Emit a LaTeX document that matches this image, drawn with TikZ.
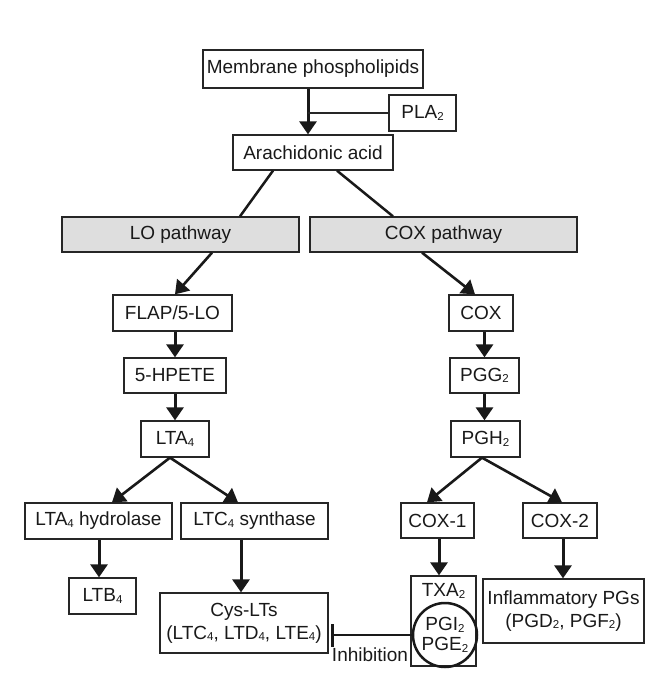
\documentclass[tikz,border=0pt]{standalone}
\usepackage{fontspec}
\setmainfont{Liberation Sans}
\usetikzlibrary{arrows.meta}
\newcommand\sbx[1]{\raisebox{-1.5pt}{\fontsize{11.5}{11.5}\selectfont #1}}
\begin{document}
\begin{tikzpicture}[x=1pt,y=-1pt,
  txt/.style={font=\fontsize{19}{23}\selectfont, text=black!90},
  box/.style={txt, draw=black!85, line width=1.3pt, inner sep=0pt, minimum height=36pt},
  pbox/.style={box, fill=black!13},
  arr/.style={draw=black!90, line width=3pt, -{Triangle[width=17pt,length=13pt]}},
  arrd/.style={draw=black!90, line width=2.6pt, -{Triangle[width=17pt,length=13pt]}},
  ln/.style={draw=black!90, line width=2.5pt},
  thinln/.style={draw=black!85, line width=1.2pt}]
\useasboundingbox (0,0) rectangle (670,688);
\node[box, minimum width=220pt, minimum height=38pt] (mp) at (313,69) {Membrane phospholipids};
\node[box, minimum width=67pt] (pla) at (422.5,113) {PLA\sbx{2}};
\node[box, minimum width=160pt, minimum height=35pt] (aa) at (313,152.5) {Arachidonic acid};
\node[pbox, minimum width=237pt, minimum height=35pt] (lo) at (180.5,234.5) {LO pathway};
\node[pbox, minimum width=267pt, minimum height=35pt] (coxp) at (443.5,234.5) {COX pathway};
\node[box, minimum width=119pt] (flap) at (172.5,313) {FLAP/5-LO};
\node[box, minimum width=64pt] (cox) at (481,313) {COX};
\node[box, minimum width=102pt, minimum height=35pt] (hpete) at (175,375.5) {5-HPETE};
\node[box, minimum width=69pt, minimum height=35pt] (pgg) at (484.5,375.5) {PGG\sbx{2}};
\node[box, minimum width=68pt] (lta) at (175,439) {LTA\sbx{4}};
\node[box, minimum width=69pt] (pgh) at (485.5,439) {PGH\sbx{2}};
\node[box, minimum width=147pt] (ltah) at (98.5,521) {LTA\sbx{4} hydrolase};
\node[box, minimum width=147pt] (ltcs) at (254.5,521) {LTC\sbx{4} synthase};
\node[box, minimum width=73pt, minimum height=35pt] (cox1) at (437.5,520.5) {COX-1};
\node[box, minimum width=74pt, minimum height=35pt] (cox2) at (560,520.5) {COX-2};
\node[box, minimum width=67pt] (ltb) at (102.5,596) {LTB\sbx{4}};
\node[box, minimum width=168pt, minimum height=60pt, align=center] (cys) at (244,623) {Cys-LTs\\(LTC\sbx{4}, LTD\sbx{4}, LTE\sbx{4})};
\node[box, minimum width=65pt, minimum height=90pt] (txa) at (443.5,621) {};
\node[box, minimum width=161pt, minimum height=64pt, align=center] (infl) at (563.5,611) {Inflammatory PGs\\(PGD\sbx{2}, PGF\sbx{2})};
\node[txt] (txat) at (443.5,591) {TXA\sbx{2}};
\node[txt, draw=black!90, circle, line width=2.5pt, minimum size=64pt, inner sep=0pt, align=center, font=\fontsize{19}{20}\selectfont] (circ) at (445,635) {PGI\sbx{2}\\PGE\sbx{2}};
\node[txt, inner sep=0pt] (inh) at (370,655) {Inhibition};
\coordinate (bar) at ([xshift=4pt]cys.east |- circ.west);
% connectors
\draw[arr] ([xshift=-5pt]mp.south) -- ([xshift=-5pt]aa.north);
\draw[thinln] (pla.west) -- ([xshift=-5pt]mp.south |- pla.west);
\draw[ln] ([xshift=-40pt]aa.south) -- ([xshift=59.5pt]lo.north);
\draw[ln] ([xshift=24pt]aa.south) -- ([xshift=-50.5pt]coxp.north);
\draw[arrd] ([xshift=31.5pt]lo.south) -- ([xshift=2.5pt]flap.north);
\draw[arrd] ([xshift=-21.5pt]coxp.south) -- ([xshift=-6pt]cox.north);
\draw[arr] (hpete.north |- flap.south) -- (hpete.north);
\draw[arr] (pgg.north |- cox.south) -- (pgg.north);
\draw[arr] (hpete.south) -- (lta.north);
\draw[arr] (pgg.south) -- (pgg.south |- pgh.north);
\draw[arrd] ([xshift=-5pt]lta.south) -- ([xshift=13.5pt]ltah.north);
\draw[arrd] ([xshift=-5pt]lta.south) -- ([xshift=-16.5pt]ltcs.north);
\draw[arrd] ([xshift=-3.5pt]pgh.south) -- ([xshift=-10.5pt]cox1.north);
\draw[arrd] ([xshift=-3.5pt]pgh.south) -- ([xshift=2pt]cox2.north);
\draw[arr] ([xshift=0.5pt]ltah.south) -- ([xshift=-3.5pt]ltb.north);
\draw[arr] ([xshift=-13.5pt]ltcs.south) -- ([xshift=-3pt]cys.north);
\draw[arr] ([xshift=1.5pt]cox1.south) -- ([xshift=-4.5pt]txa.north);
\draw[arr] ([xshift=3pt]cox2.south) -- ([xshift=-0.5pt]infl.north);
\draw[ln, line width=2.8pt] (circ.west) -- (bar);
\draw[ln, line width=2.8pt] ([yshift=-11.5pt]bar) -- ([yshift=11.5pt]bar);
\end{tikzpicture}
\end{document}
